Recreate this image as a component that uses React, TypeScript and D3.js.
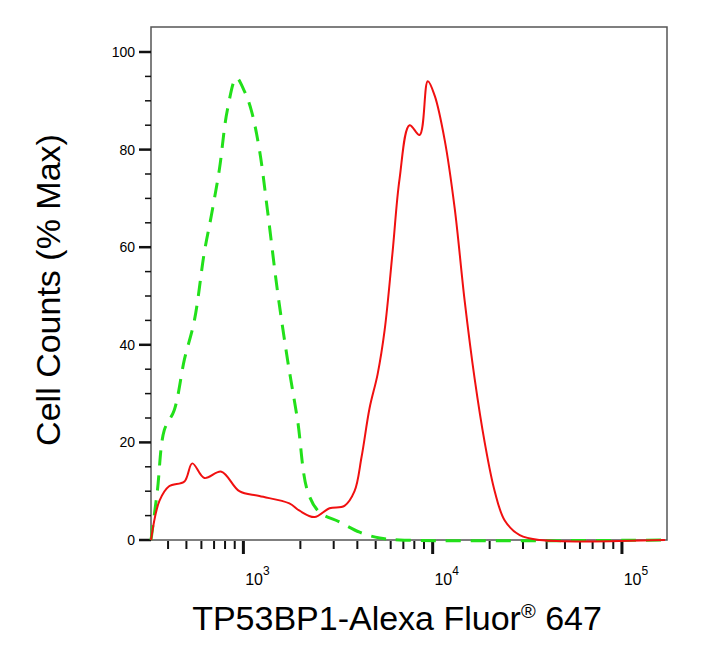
import * as d3 from "d3";

const redX = [325, 360, 405, 488, 537, 622, 765, 952, 1215, 1750, 1980, 2375, 2850, 3420, 3865, 4210, 4640, 5120, 5575, 6140, 6685, 7550, 8530, 9420, 10260, 11570, 13070, 14760, 16670, 18830, 21270, 24030, 28840, 36810, 169000];
const redY = [0, 8, 11, 12, 15.7, 12.7, 14, 10, 9, 7.5, 6, 4.7, 6.5, 7, 10, 17, 27, 34, 43, 59, 74, 85, 83, 94, 91, 82, 68, 49, 33, 20, 10, 4, 1, 0, 0];
const greenX = [325, 351, 382, 431, 488, 551, 622, 678, 747, 822, 919, 1012, 1102, 1215, 1340, 1514, 1710, 1932, 2184, 2523, 3221, 4111, 5248, 6685, 169000];
const greenY = [0, 10, 22.5, 26.6, 37, 45, 59, 66.6, 76, 88, 94.7, 92, 88, 80, 67.6, 51, 37, 24.6, 10, 5.7, 3.7, 1.6, 0.4, 0, 0];
const yTicks = [0, 20, 40, 60, 80, 100];
const xDecades = [3, 4, 5];

export default function App() {
  const left = 151, right = 667, top = 27, bottom = 540;
  const x = d3.scaleLog().domain([325, 173000]).range([left, right]);
  const y = d3.scaleLinear().domain([0, 100]).range([bottom, 52]);
  const line = d3.line<[number, number]>().x((d) => x(d[0])).y((d) => y(d[1])).curve(d3.curveCatmullRom);
  const red = line(redX.map((v, i) => [v, redY[i]]))!;
  const green = line(greenX.map((v, i) => [v, greenY[i]]))!;
  const minor: number[] = [];
  for (let e = 2; e <= 5; e++) for (let k = 2; k <= 9; k++) {
    const v = k * 10 ** e;
    if (v >= 325 && v <= 173000) minor.push(v);
  }
  const yMinor = d3.range(0, 101, 5).filter((v) => v % 20 !== 0);
  const font = "Liberation Sans, Arial, sans-serif";
  return (
    <svg width={712} height={655} style={{ position: "absolute", left: 0, top: 0 }} fontFamily={font}>
      <rect x={left} y={top} width={right - left} height={bottom - top} fill="white" stroke="#555" strokeWidth={1.5} />
      {yTicks.map((t) => (
        <g key={t}>
          <line x1={left - 12} x2={left} y1={y(t)} y2={y(t)} stroke="#111" strokeWidth={2.5} />
          <text x={left - 16} y={y(t) + 5} textAnchor="end" fontSize={14}>{t}</text>
        </g>
      ))}
      {yMinor.map((t) => (
        <line key={t} x1={left - 6} x2={left} y1={y(t)} y2={y(t)} stroke="#111" strokeWidth={1.5} />
      ))}
      {minor.map((v) => (
        <line key={v} x1={x(v)} x2={x(v)} y1={bottom + 1} y2={bottom + 9} stroke="#111" strokeWidth={2} />
      ))}
      {xDecades.map((e) => (
        <g key={e}>
          <line x1={x(10 ** e)} x2={x(10 ** e)} y1={bottom + 1} y2={bottom + 14} stroke="#111" strokeWidth={3} />
          <text x={x(10 ** e) + 14} y={bottom + 45} textAnchor="middle" fontSize={16}>
            10<tspan dy={-10} fontSize={12}>{e}</tspan>
          </text>
        </g>
      ))}
      <path d={green} fill="none" stroke="#22e01a" strokeWidth={3} strokeDasharray="15 10" />
      <path d={red} fill="none" stroke="#f01010" strokeWidth={2} />
      <text transform="translate(60,290) rotate(-90)" textAnchor="middle" fontSize={34}>Cell Counts (% Max)</text>
      <text x={397} y={630} textAnchor="middle" fontSize={34}>
        TP53BP1-Alexa Fluor<tspan dy={-12} fontSize={20}>®</tspan><tspan dy={12}> 647</tspan>
      </text>
    </svg>
  );
}
